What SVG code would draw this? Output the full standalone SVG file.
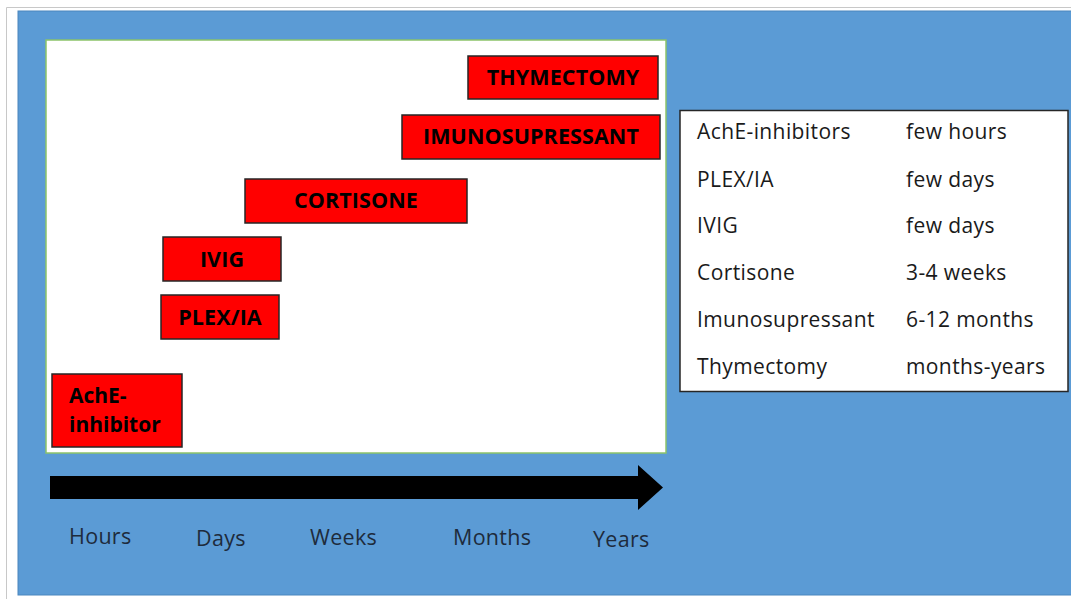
<svg xmlns="http://www.w3.org/2000/svg" width="1071" height="599" viewBox="0 0 1071 599">
<style>
.box{fill:#FF0000;stroke:#262626;stroke-width:1.5}
.bl{font-family:"Open Sans","Liberation Sans",sans-serif;font-weight:bold;font-size:21.5px;letter-spacing:0.1px;fill:#000;text-anchor:middle}
.bll{font-family:"Open Sans","Liberation Sans",sans-serif;font-weight:bold;font-size:21px;fill:#000}
.tb{font-family:"Open Sans","Liberation Sans",sans-serif;font-size:21px;letter-spacing:0.4px;fill:#1a1a1a}
.ax{font-family:"Open Sans","Liberation Sans",sans-serif;font-size:21.5px;letter-spacing:0.3px;fill:#1E2B3C}
</style>
<rect x="0" y="0" width="1071" height="599" fill="#fff"/>
<path d="M6.5 599 V7.5 H1071" fill="none" stroke="#C8C8C8" stroke-width="1"/>
<rect x="18" y="11" width="1060" height="584" fill="#5B9BD5" stroke="#4A86BE" stroke-width="1"/>
<rect x="46" y="40" width="620" height="413" fill="#fff" stroke="#8CC36A" stroke-width="1.5"/>
<g id="thymectomy"><rect class="box" x="468" y="56" width="190" height="43"/><text class="bl" x="563" y="84.5">THYMECTOMY</text></g>
<g id="imunosupressant"><rect class="box" x="402" y="115" width="258" height="44"/><text class="bl" x="531" y="143.5">IMUNOSUPRESSANT</text></g>
<g id="cortisone"><rect class="box" x="245" y="179" width="222" height="44"/><text class="bl" x="356" y="207.5">CORTISONE</text></g>
<g id="ivig"><rect class="box" x="163" y="237" width="118" height="44"/><text class="bl" x="222" y="266.5">IVIG</text></g>
<g id="plex"><rect class="box" x="161" y="295" width="118" height="44"/><text class="bl" x="220" y="324.5">PLEX/IA</text></g>
<g id="ache"><rect class="box" x="52" y="374" width="130" height="73"/><text class="bll" x="69" y="403">AchE-</text><text class="bll" x="69" y="432">inhibitor</text></g>
<g id="connectors"><path d="M50 476 H638 V465 L663 487.5 L638 510 V499 H50 Z" fill="#000"/></g>
<g id="axis-labels">
<text class="ax" x="69" y="544">Hours</text>
<text class="ax" x="196" y="546">Days</text>
<text class="ax" x="310" y="545">Weeks</text>
<text class="ax" x="453" y="545">Months</text>
<text class="ax" x="593" y="547">Years</text>
</g>
<g id="legend">
<rect x="680" y="110.5" width="388" height="281" fill="#fff" stroke="#262626" stroke-width="1.5"/>
<text class="tb" x="697" y="138.5">AchE-inhibitors</text><text class="tb" x="906" y="138.5">few hours</text>
<text class="tb" x="697" y="186.5">PLEX/IA</text><text class="tb" x="906" y="186.5">few days</text>
<text class="tb" x="697" y="232.5">IVIG</text><text class="tb" x="906" y="232.5">few days</text>
<text class="tb" x="697" y="279.5">Cortisone</text><text class="tb" x="906" y="279.5">3-4 weeks</text>
<text class="tb" x="697" y="326.5">Imunosupressant</text><text class="tb" x="906" y="326.5">6-12 months</text>
<text class="tb" x="697" y="373.5">Thymectomy</text><text class="tb" x="906" y="373.5">months-years</text>
</g>
</svg>
